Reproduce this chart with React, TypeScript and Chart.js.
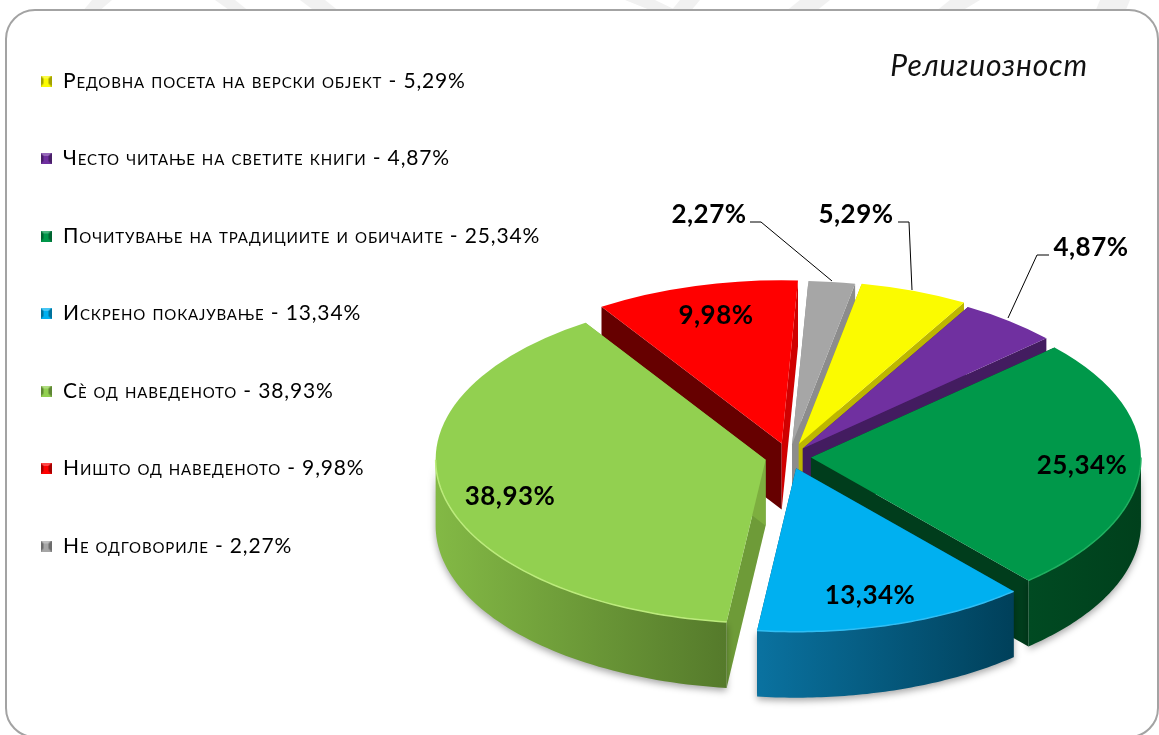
import React, { useEffect, useRef } from "react";
import { Chart, registerables } from "chart.js";

Chart.register(...registerables);

const categories = [
  "Редовна посета на верски објект",
  "Често читање на светите книги",
  "Почитување на традициите и обичаите",
  "Искрено покајување",
  "Сè од наведеното",
  "Ништо од наведеното",
  "Не одговориле",
];
const values = [5.29, 4.87, 25.34, 13.34, 38.93, 9.98, 2.27];
const topColors = ["#FBFB00", "#7030A0", "#00984A", "#00B0F0", "#92D050", "#FF0000", "#A6A6A6"];
const wallLeft = ["#BDB700", "#54247A", "#004A22", "#0A72A0", "#83B945", "#8A0000", "#7A7A7A"];
const wallRight = ["#BDB700", "#43195F", "#00401C", "#00405A", "#557A2B", "#8A0000", "#7A7A7A"];
const startFace = ["#BDB700", "#431C60", "#003D1C", "#004A68", "#6E9B38", "#660000", "#8C8C8C"];
const endFace = ["#BDB700", "#431C60", "#003D1C", "#004A68", "#7DAE3F", "#D00000", "#8C8C8C"];
const rimColors = ["#FFFF80", "#8A50B8", "#1FB060", "#30BEF4", "#BCEB7C", "#FF5050", "#C8C8C8"];
const explode = [28, 22, 22, 24, 24, 28, 26];
const chartTitle = "Религиозност";

const labelAnchors = [
  [856, 215],
  [1091, 248],
  [1082, 466],
  [870, 596],
  [510, 497],
  [716, 316],
  [709, 215],
];
const leaderLines: number[][][] = [
  [[898, 222], [909, 222], [912, 290]],
  [[1049, 255], [1037, 255], [1008, 318]],
  [],
  [],
  [],
  [],
  [[750, 222], [761, 222], [832, 281]],
];

const PIE_X = 789;
const PIE_Y = 457;
const SQUASH = 0.495;
const DEPTH = 66;
const RADIUS = 330;
const FONT = '"Lato", "Noto Sans", sans-serif';
const TEXT_TRACKING = "0.85px";

const fmt = (v: number) => v.toFixed(2).replace(".", ",") + "%";

function bevelIcon(color: string): HTMLCanvasElement {
  const c = document.createElement("canvas");
  c.width = 11;
  c.height = 11;
  const x = c.getContext("2d")!;
  x.fillStyle = color;
  x.fillRect(0, 0, 11, 11);
  x.fillStyle = "rgba(255,255,255,0.28)";
  x.beginPath();
  x.moveTo(0, 0); x.lineTo(11, 0); x.lineTo(8, 3); x.lineTo(3, 3);
  x.closePath();
  x.fill();
  x.fillStyle = "rgba(0,0,0,0.35)";
  x.beginPath();
  x.moveTo(0, 0); x.lineTo(3, 3); x.lineTo(3, 8); x.lineTo(0, 11);
  x.closePath();
  x.moveTo(11, 0); x.lineTo(8, 3); x.lineTo(8, 8); x.lineTo(11, 11);
  x.closePath();
  x.fill();
  return c;
}

const centerOf = (chart: any) => ({
  cx: (chart.chartArea.left + chart.chartArea.right) / 2,
  cy: (chart.chartArea.top + chart.chartArea.bottom) / 2,
});

function arcGeometry(chart: any, arc: any) {
  const { cx, cy } = centerOf(chart);
  const r = arc.outerRadius;
  const map = (x: number, y: number) => [PIE_X + (x - cx), PIE_Y + SQUASH * (y - cy)];
  const rim = (t: number) => map(arc.x + r * Math.cos(t), arc.y + r * Math.sin(t));
  return { tip: map(arc.x, arc.y), rim };
}

const pie3d = {
  id: "pie3d",
  beforeLayout(chart: any) {
    (chart.ctx as any).letterSpacing = TEXT_TRACKING;
  },
  afterDatasetsUpdate(chart: any) {
    const { cx, cy } = centerOf(chart);
    chart.getDatasetMeta(0).data.forEach((arc: any, i: number) => {
      const mid = (arc.startAngle + arc.endAngle) / 2;
      arc.x = cx + Math.cos(mid) * explode[i];
      arc.y = cy + Math.sin(mid) * explode[i];
    });
  },
  beforeDraw(chart: any) {
    (chart.ctx as any).letterSpacing = TEXT_TRACKING;
  },
  beforeDatasetsDraw(chart: any) {
    const ctx = chart.ctx as CanvasRenderingContext2D;
    (ctx as any).letterSpacing = "0px";
    const arcs = chart.getDatasetMeta(0).data;
    const order = arcs
      .map((a: any, i: number) => ({ i, s: Math.sin((a.startAngle + a.endAngle) / 2) }))
      .sort((p: any, q: any) => p.s - q.s);

    for (const { i } of order) {
      const arc = arcs[i];
      const g = arcGeometry(chart, arc);
      const faces: [number, string][] = [
        [arc.startAngle, startFace[i]],
        [arc.endAngle, endFace[i]],
      ];
      for (const [t, color] of faces) {
        const p = g.rim(t);
        ctx.beginPath();
        ctx.moveTo(g.tip[0], g.tip[1]);
        ctx.lineTo(p[0], p[1]);
        ctx.lineTo(p[0], p[1] + DEPTH);
        ctx.lineTo(g.tip[0], g.tip[1] + DEPTH);
        ctx.closePath();
        ctx.fillStyle = color;
        ctx.fill();
      }
      const from = Math.max(arc.startAngle, 0);
      const to = Math.min(arc.endAngle, Math.PI);
      if (to > from) {
        const a = g.rim(from);
        const b = g.rim(to);
        const grad = ctx.createLinearGradient(Math.min(a[0], b[0]), 0, Math.max(a[0], b[0]), 0);
        grad.addColorStop(0, wallLeft[i]);
        grad.addColorStop(1, wallRight[i]);
        ctx.save();
        ctx.shadowColor = "rgba(0,0,0,0.35)";
        ctx.shadowBlur = 7;
        ctx.shadowOffsetY = 3;
        ctx.beginPath();
        const steps = 60;
        for (let s = 0; s <= steps; s++) {
          const p = g.rim(from + ((to - from) * s) / steps);
          if (s === 0) ctx.moveTo(p[0], p[1]);
          else ctx.lineTo(p[0], p[1]);
        }
        for (let s = steps; s >= 0; s--) {
          const p = g.rim(from + ((to - from) * s) / steps);
          ctx.lineTo(p[0], p[1] + DEPTH);
        }
        ctx.closePath();
        ctx.fillStyle = grad;
        ctx.fill();
        ctx.restore();
      }
    }

    const { cx, cy } = centerOf(chart);
    ctx.save();
    ctx.translate(PIE_X, PIE_Y);
    ctx.scale(1, SQUASH);
    ctx.translate(-cx, -cy);
  },
  afterDatasetsDraw(chart: any) {
    const ctx = chart.ctx as CanvasRenderingContext2D;
    ctx.restore();
    const arcs = chart.getDatasetMeta(0).data;

    arcs.forEach((arc: any, i: number) => {
      const g = arcGeometry(chart, arc);
      const from = Math.max(arc.startAngle, 0);
      const to = Math.min(arc.endAngle, Math.PI);
      if (to > from) {
        ctx.beginPath();
        const steps = 60;
        for (let s = 0; s <= steps; s++) {
          const p = g.rim(from + ((to - from) * s) / steps);
          if (s === 0) ctx.moveTo(p[0], p[1]);
          else ctx.lineTo(p[0], p[1]);
        }
        ctx.strokeStyle = rimColors[i];
        ctx.lineWidth = 1.5;
        ctx.stroke();
      }
    });

    ctx.strokeStyle = "#000";
    ctx.lineWidth = 1;
    for (const line of leaderLines) {
      if (!line.length) continue;
      ctx.beginPath();
      line.forEach((p, n) => (n ? ctx.lineTo(p[0], p[1]) : ctx.moveTo(p[0], p[1])));
      ctx.stroke();
    }

    ctx.save();
    (ctx as any).letterSpacing = "0.5px";
    ctx.fillStyle = "#000";
    ctx.font = `bold 26px ${FONT}`;
    ctx.textAlign = "center";
    ctx.textBaseline = "middle";
    values.forEach((v, i) => ctx.fillText(fmt(v), labelAnchors[i][0], labelAnchors[i][1]));
    ctx.restore();
  },
};

export default function App() {
  const ref = useRef<HTMLCanvasElement>(null);
  useEffect(() => {
    const chart = new Chart(ref.current!, {
      type: "pie",
      data: {
        labels: categories,
        datasets: [
          {
            data: values,
            backgroundColor: topColors,
            borderWidth: 0,
            clip: false,
          } as any,
        ],
      },
      options: {
        responsive: false,
        animation: false,
        rotation: 11,
        radius: RADIUS,
        layout: { padding: { left: -17, top: 14, right: 71 } },
        plugins: {
          tooltip: { enabled: false },
          title: {
            display: true,
            text: chartTitle,
            align: "end",
            color: "#111",
            padding: { top: 34, bottom: 0 },
            font: { family: FONT, size: 30, style: "italic", weight: "normal" },
          },
          legend: {
            position: "left",
            align: "start",
            maxWidth: 700,
            labels: {
              padding: 56.5,
              boxWidth: 13,
              boxHeight: 11,
              usePointStyle: true,
              color: "#111",
              font: { family: FONT, size: 21, weight: "small-caps" as any },
              generateLabels: () =>
                categories.map((name, i) => ({
                  text: `${name} - ${fmt(values[i])}`,
                  pointStyle: bevelIcon(topColors[i]),
                  fillStyle: topColors[i],
                  strokeStyle: topColors[i],
                  lineWidth: 0,
                  hidden: false,
                  index: i,
                })) as any,
            },
          },
        },
      },
      plugins: [pie3d],
    });
    return () => chart.destroy();
  }, []);

  return (
    <div style={{ position: "absolute", left: 0, top: 0, width: 1159, height: 735, overflow: "hidden", background: "#fff" }}>
      <svg width={1159} height={12} style={{ position: "absolute", left: 0, top: 0 }}>
        <g fill="#f1f1f1">
          <polygon points="92,0 112,0 98,12 82,12" />
          <polygon points="215,0 235,0 250,12 232,12" />
          <polygon points="300,0 325,0 340,12 316,12" />
          <polygon points="625,0 655,0 680,12 655,12" />
          <polygon points="680,0 700,0 690,12 670,12" />
          <polygon points="800,0 830,0 815,12 785,12" />
          <polygon points="950,0 980,0 960,12 935,12" />
          <polygon points="1100,0 1130,0 1125,12 1095,12" />
        </g>
      </svg>
      <div
        style={{
          position: "absolute",
          left: 5,
          top: 9,
          width: 1150,
          height: 725,
          border: "2px solid #a3a3a3",
          borderRadius: 30,
          background: "#fff",
        }}
      />
      <canvas ref={ref} width={1159} height={735} style={{ position: "absolute", left: 0, top: 0 }} />
    </div>
  );
}
